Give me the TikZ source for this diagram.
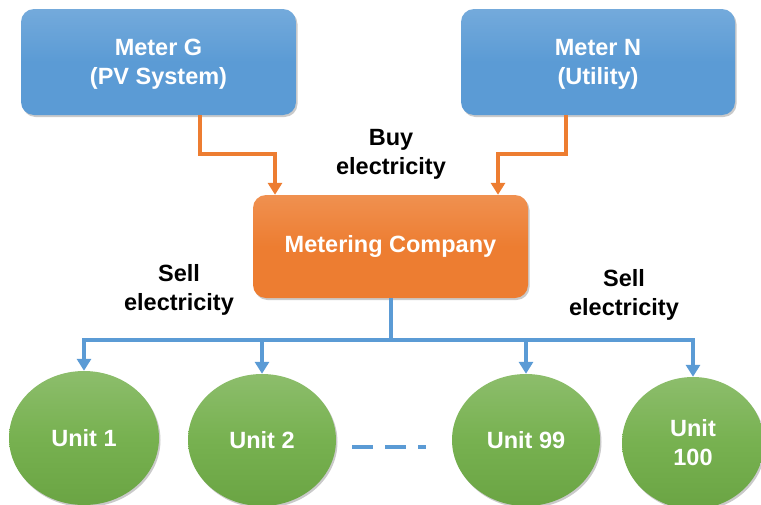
\documentclass[tikz,border=0pt]{standalone}
\usepackage{fontspec}
\setmainfont{Liberation Sans}
\usetikzlibrary{arrows.meta,shadows,shapes.geometric}
\definecolor{mblue}{HTML}{5B9BD5}
\definecolor{morange}{HTML}{ED7D31}
\definecolor{mgreen}{HTML}{70AD47}
\tikzset{
  txt/.style={font=\bfseries\fontsize{23.5}{29}\selectfont, align=center, inner sep=0pt},
  shad/.style={drop shadow={opacity=0.35, shadow xshift=1.5pt, shadow yshift=-2pt, fill=black!60}},
  bluebox/.style={txt, text=white, rounded corners=13pt, top color=mblue!85!white, bottom color=mblue, middle color=mblue, shad, minimum width=275pt, minimum height=106pt},
  orangebox/.style={txt, text=white, rounded corners=13pt, top color=morange!85!white, bottom color=morange, middle color=morange, shad, minimum width=275pt, minimum height=103pt},
  unit/.style={txt, text=white, ellipse, top color=mgreen!80!white, bottom color=mgreen!95!black, middle color=mgreen!95!white, shad, minimum width=148pt, minimum height=132pt},
  oarrow/.style={draw=morange, line width=4pt, -{Triangle[width=14pt,length=12pt]}},
  barrow/.style={draw=mblue, line width=4pt, -{Triangle[width=14pt,length=12pt]}},
  bline/.style={draw=mblue, line width=4pt},
  lbl/.style={txt, text=black},
}
\begin{document}
\begin{tikzpicture}[x=1pt,y=-1pt]
\useasboundingbox (0,0) rectangle (761,504);
\node[bluebox] (mg) at (158.5,62) {};
\node[txt, text=white] (mgt) at (158.5,64.5) {Meter G\\(PV System)};
\node[bluebox, minimum width=274pt] (mn) at (598,62) {};
\node[txt, text=white] (mnt) at (598,64.5) {Meter N\\(Utility)};
\node[orangebox] (mc) at (390.5,246.5) {Metering Company};
\node[unit, minimum width=150pt, minimum height=134pt] (u1) at (84,438) {Unit 1};
\node[unit] (u2) at (262,440) {Unit 2};
\node[unit] (u99) at (526,440) {Unit 99};
\node[unit, minimum width=142pt] (u100) at (693,443) {Unit\\100};
\node[lbl] (buy) at (391,154) {Buy\\electricity};
\node[lbl] (sell1) at (179,290) {Sell\\electricity};
\node[lbl] (sell2) at (624,295) {Sell\\electricity};
\draw[oarrow] ([xshift=41.5pt]mg.south) -- ++(0,39) -| ([xshift=-115.5pt]mc.north);
\draw[oarrow] ([xshift=-32pt]mn.south) -- ++(0,39) -| ([xshift=107.5pt]mc.north);
\coordinate (bus) at (390.5,340);
\draw[bline] (mc.south) -- (bus);
\draw[barrow] (bus) -| (u1.north);
\draw[barrow] (bus) -| (u100.north);
\draw[barrow] (bus -| u2.north) -- (u2.north);
\draw[barrow] (bus -| u99.north) -- (u99.north);
\draw[mblue, line width=4.5pt, dash pattern=on 21pt off 12pt] (352,447) -- (426,447);
\end{tikzpicture}
\end{document}
